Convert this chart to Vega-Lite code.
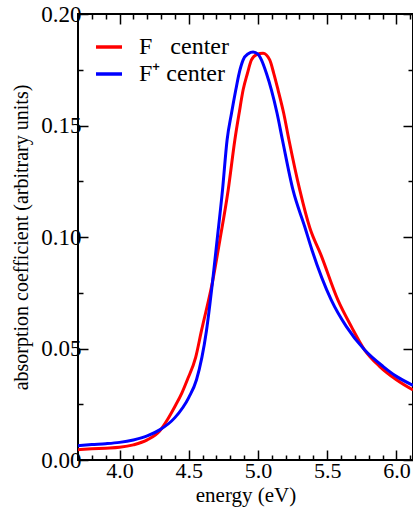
{
  "$schema": "https://vega.github.io/schema/vega-lite/v6.json",
  "width": 335,
  "height": 446,
  "autosize": {"type": "none"},
  "padding": {"left": 78, "top": 14, "right": 0, "bottom": 48},
  "background": "white",
  "config": {
    "view": {"stroke": "black", "strokeWidth": 2},
    "font": "Liberation Serif",
    "axis": {"labelFont": "Liberation Serif", "titleFont": "Liberation Serif", "labelColor": "black", "titleColor": "black", "tickColor": "black", "tickWidth": 1.5, "grid": false, "domain": false, "titleFontWeight": "normal"},
    "legend": {"labelFont": "Liberation Serif"}
  },
  "data": {"values": [
    {"E": 3.70, "v": 0.0046, "series": "F  center"},
    {"E": 3.80, "v": 0.0050, "series": "F  center"},
    {"E": 3.90, "v": 0.0053, "series": "F  center"},
    {"E": 4.00, "v": 0.0057, "series": "F  center"},
    {"E": 4.10, "v": 0.0068, "series": "F  center"},
    {"E": 4.20, "v": 0.0090, "series": "F  center"},
    {"E": 4.29, "v": 0.0130, "series": "F  center"},
    {"E": 4.35, "v": 0.0185, "series": "F  center"},
    {"E": 4.40, "v": 0.0240, "series": "F  center"},
    {"E": 4.45, "v": 0.0300, "series": "F  center"},
    {"E": 4.49, "v": 0.0360, "series": "F  center"},
    {"E": 4.55, "v": 0.0460, "series": "F  center"},
    {"E": 4.592, "v": 0.0580, "series": "F  center"},
    {"E": 4.672, "v": 0.0800, "series": "F  center"},
    {"E": 4.725, "v": 0.0987, "series": "F  center"},
    {"E": 4.785, "v": 0.1211, "series": "F  center"},
    {"E": 4.833, "v": 0.1435, "series": "F  center"},
    {"E": 4.864, "v": 0.1555, "series": "F  center"},
    {"E": 4.893, "v": 0.1660, "series": "F  center"},
    {"E": 4.924, "v": 0.1734, "series": "F  center"},
    {"E": 4.953, "v": 0.1794, "series": "F  center"},
    {"E": 4.99, "v": 0.1818, "series": "F  center"},
    {"E": 5.037, "v": 0.1824, "series": "F  center"},
    {"E": 5.085, "v": 0.1794, "series": "F  center"},
    {"E": 5.114, "v": 0.1734, "series": "F  center"},
    {"E": 5.145, "v": 0.1660, "series": "F  center"},
    {"E": 5.186, "v": 0.1555, "series": "F  center"},
    {"E": 5.224, "v": 0.1435, "series": "F  center"},
    {"E": 5.302, "v": 0.1211, "series": "F  center"},
    {"E": 5.375, "v": 0.1040, "series": "F  center"},
    {"E": 5.455, "v": 0.0920, "series": "F  center"},
    {"E": 5.578, "v": 0.0717, "series": "F  center"},
    {"E": 5.675, "v": 0.0598, "series": "F  center"},
    {"E": 5.771, "v": 0.0493, "series": "F  center"},
    {"E": 5.88, "v": 0.0419, "series": "F  center"},
    {"E": 6.00, "v": 0.0360, "series": "F  center"},
    {"E": 6.12, "v": 0.0314, "series": "F  center"},
    {"E": 3.70, "v": 0.0064, "series": "F⁺ center"},
    {"E": 3.80, "v": 0.0069, "series": "F⁺ center"},
    {"E": 3.90, "v": 0.0073, "series": "F⁺ center"},
    {"E": 4.00, "v": 0.0079, "series": "F⁺ center"},
    {"E": 4.10, "v": 0.0090, "series": "F⁺ center"},
    {"E": 4.20, "v": 0.0108, "series": "F⁺ center"},
    {"E": 4.29, "v": 0.0135, "series": "F⁺ center"},
    {"E": 4.40, "v": 0.0190, "series": "F⁺ center"},
    {"E": 4.50, "v": 0.0280, "series": "F⁺ center"},
    {"E": 4.556, "v": 0.0360, "series": "F⁺ center"},
    {"E": 4.628, "v": 0.0580, "series": "F⁺ center"},
    {"E": 4.672, "v": 0.0800, "series": "F⁺ center"},
    {"E": 4.705, "v": 0.0987, "series": "F⁺ center"},
    {"E": 4.744, "v": 0.1211, "series": "F⁺ center"},
    {"E": 4.777, "v": 0.1435, "series": "F⁺ center"},
    {"E": 4.809, "v": 0.1555, "series": "F⁺ center"},
    {"E": 4.84, "v": 0.1660, "series": "F⁺ center"},
    {"E": 4.864, "v": 0.1734, "series": "F⁺ center"},
    {"E": 4.893, "v": 0.1794, "series": "F⁺ center"},
    {"E": 4.93, "v": 0.1822, "series": "F⁺ center"},
    {"E": 4.965, "v": 0.1830, "series": "F⁺ center"},
    {"E": 5.00, "v": 0.1820, "series": "F⁺ center"},
    {"E": 5.025, "v": 0.1794, "series": "F⁺ center"},
    {"E": 5.061, "v": 0.1734, "series": "F⁺ center"},
    {"E": 5.097, "v": 0.1660, "series": "F⁺ center"},
    {"E": 5.138, "v": 0.1555, "series": "F⁺ center"},
    {"E": 5.177, "v": 0.1435, "series": "F⁺ center"},
    {"E": 5.253, "v": 0.1211, "series": "F⁺ center"},
    {"E": 5.338, "v": 0.1046, "series": "F⁺ center"},
    {"E": 5.39, "v": 0.0942, "series": "F⁺ center"},
    {"E": 5.530, "v": 0.0717, "series": "F⁺ center"},
    {"E": 5.639, "v": 0.0598, "series": "F⁺ center"},
    {"E": 5.771, "v": 0.0493, "series": "F⁺ center"},
    {"E": 5.905, "v": 0.0419, "series": "F⁺ center"},
    {"E": 6.00, "v": 0.0375, "series": "F⁺ center"},
    {"E": 6.12, "v": 0.0335, "series": "F⁺ center"}
  ]},
  "resolve": {"axis": {"x": "independent", "y": "independent"}},
  "layer": [
    {
      "mark": {"type": "line", "strokeWidth": 3, "interpolate": "monotone", "clip": true},
      "encoding": {
        "x": {"field": "E", "type": "quantitative", "scale": {"domain": [3.7, 6.12], "nice": false, "zero": false},
          "axis": {"orient": "bottom", "values": [4.0, 4.5, 5.0, 5.5, 6.0], "format": ".1f", "tickSize": -10, "labelPadding": 10, "labelFontSize": 22, "title": "energy (eV)", "titleFontSize": 21, "titlePadding": 3}},
        "y": {"field": "v", "type": "quantitative", "scale": {"domain": [0, 0.2], "nice": false},
          "axis": {"orient": "left", "values": [0, 0.05, 0.1, 0.15, 0.2], "format": ".2f", "tickSize": -10, "labelPadding": 7, "labelFontSize": 23, "title": "absorption coefficient (arbitrary units)", "titleFontSize": 20, "titlePadding": 9}},
        "color": {"field": "series", "type": "nominal", "sort": ["F  center", "F⁺ center"],
          "scale": {"domain": ["F  center", "F⁺ center"], "range": ["#ff0000", "#0000ff"]},
          "legend": {"orient": "none", "legendX": 16, "legendY": 18, "title": null, "symbolType": "stroke", "symbolSize": 676, "symbolStrokeWidth": 3.5, "labelFontSize": 24, "labelOffset": 15, "labelColor": "black", "rowPadding": 0,
            "labelExpr": "datum.label == 'F  center' ? 'F\u2002 center' : datum.label"}}
      }
    },
    {
      "mark": {"type": "point", "opacity": 0},
      "encoding": {
        "x": {"field": "E", "type": "quantitative", "axis": {"orient": "bottom", "values": [3.8, 3.9, 4.1, 4.2, 4.3, 4.4, 4.6, 4.7, 4.8, 4.9, 5.1, 5.2, 5.3, 5.4, 5.6, 5.7, 5.8, 5.9, 6.1], "tickSize": -5, "labels": false, "title": null}},
        "y": {"field": "v", "type": "quantitative", "axis": {"orient": "left", "values": [0.025, 0.075, 0.125, 0.175], "tickSize": -5, "labels": false, "title": null}}
      }
    },
    {
      "mark": {"type": "point", "opacity": 0},
      "encoding": {
        "x": {"field": "E", "type": "quantitative", "axis": {"orient": "top", "values": [4.0, 4.5, 5.0, 5.5, 6.0], "tickSize": -10, "labels": false, "title": null}},
        "y": {"field": "v", "type": "quantitative", "axis": {"orient": "right", "values": [0, 0.05, 0.1, 0.15, 0.2], "tickSize": -10, "labels": false, "title": null}}
      }
    },
    {
      "mark": {"type": "point", "opacity": 0},
      "encoding": {
        "x": {"field": "E", "type": "quantitative", "axis": {"orient": "top", "values": [3.8, 3.9, 4.1, 4.2, 4.3, 4.4, 4.6, 4.7, 4.8, 4.9, 5.1, 5.2, 5.3, 5.4, 5.6, 5.7, 5.8, 5.9, 6.1], "tickSize": -5, "labels": false, "title": null}},
        "y": {"field": "v", "type": "quantitative", "axis": {"orient": "right", "values": [0.025, 0.075, 0.125, 0.175], "tickSize": -5, "labels": false, "title": null}}
      }
    }
  ]
}
